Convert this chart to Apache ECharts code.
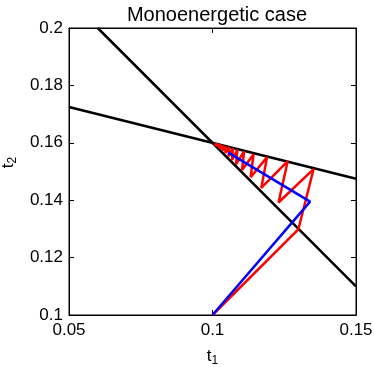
<!DOCTYPE html>
<html style="height: 100%">
<head>
  <meta charset="utf-8" />
  <title>Monoenergetic case</title>
  <script src="https://cdn.jsdelivr.net/npm/echarts@6/dist/echarts.min.js"></script>
</head>
<body style="height: 100%; margin: 0; overflow: hidden; background: #fff">
  <div id="container" style="width: 374px; height: 367px"></div>
  <script>
    // boundary lines (t1, t2)
    var steepLine = [[0.06, 0.2], [0.15, 0.11]];
    var shallowLine = [[0.05, 0.1725], [0.15, 0.1475]];
    // red zigzag iteration
    var redPath = [
      [0.1, 0.1], [0.1299, 0.1298], [0.1352, 0.1508], [0.1230, 0.1392],
      [0.1262, 0.1536], [0.1170, 0.1443], [0.1190, 0.1550], [0.1133, 0.1480],
      [0.1143, 0.1560], [0.1103, 0.1505], [0.1110, 0.1570], [0.1082, 0.1525],
      [0.1087, 0.1576], [0.1068, 0.1540], [0.1071, 0.1581], [0.1056, 0.1553],
      [0.1058, 0.1585], [0.1045, 0.1565], [0.1045, 0.1588], [0.1035, 0.1573],
      [0.1035, 0.1591], [0.1026, 0.1580], [0.1026, 0.1594], [0.1018, 0.1587],
      [0.1017, 0.1596], [0.1010, 0.1592], [0.1008, 0.1598]
    ];
    // blue path
    var bluePath = [[0.1, 0.1], [0.1340, 0.1395], [0.1055, 0.1566]];

    var font = "Liberation Sans, Arial, sans-serif";
    var dom = document.getElementById("container");
    var myChart = echarts.init(dom, null, { renderer: "canvas" });

    var tickLabel = { color: "#000", fontSize: 17, fontFamily: font };
    var nameRich = {
      t: { fontSize: 17, fontFamily: font, color: "#000" },
      s: { fontSize: 12, fontFamily: font, color: "#000", padding: [10, 0, 0, 0] }
    };
    var option = {
      animation: false,
      title: {
        text: "Monoenergetic case",
        left: 212, top: 0, textAlign: "center",
        textStyle: { color: "#000", fontSize: 20, fontWeight: "normal", fontFamily: font }
      },
      grid: {
        left: 69, right: 18, top: 28, bottom: 52,
        outerBoundsMode: "none", containLabel: false,
        show: true, borderColor: "#000", borderWidth: 1
      },
      xAxis: [{
        type: "value", min: 0.05, max: 0.15, interval: 0.05,
        name: "{t|t}{s|1}", nameLocation: "middle", nameGap: 30,
        nameTextStyle: { rich: nameRich },
        axisLine: { lineStyle: { color: "#000" } },
        axisTick: { inside: true, length: 5, lineStyle: { color: "#000" } },
        axisLabel: Object.assign({ margin: 7 }, tickLabel),
        splitLine: { show: false }
      }, {
        type: "value", min: 0.05, max: 0.15, interval: 0.05, position: "top",
        axisLine: { lineStyle: { color: "#000" } },
        axisTick: { inside: true, length: 5, lineStyle: { color: "#000" } },
        axisLabel: { show: false }, splitLine: { show: false }
      }],
      yAxis: [{
        type: "value", min: 0.1, max: 0.2, interval: 0.02,
        name: "{t|t}{s|2}", nameLocation: "middle", nameGap: 48, nameRotate: 90,
        nameTextStyle: { rich: nameRich, padding: [0, 0, 0, 18] },
        axisLine: { lineStyle: { color: "#000" } },
        axisTick: { inside: true, length: 5, lineStyle: { color: "#000" } },
        axisLabel: Object.assign({ margin: 6 }, tickLabel),
        splitLine: { show: false }
      }, {
        type: "value", min: 0.1, max: 0.2, interval: 0.02, position: "right",
        axisLine: { lineStyle: { color: "#000" } },
        axisTick: { inside: true, length: 5, lineStyle: { color: "#000" } },
        axisLabel: { show: false }, splitLine: { show: false }
      }],
      series: [
        { type: "line", data: steepLine, showSymbol: false, lineStyle: { color: "#000", width: 2.5 } },
        { type: "line", data: shallowLine, showSymbol: false, lineStyle: { color: "#000", width: 2.5 } },
        { type: "line", data: redPath, showSymbol: false, lineStyle: { color: "#ff0000", width: 2.5 } },
        { type: "line", data: bluePath, showSymbol: false, lineStyle: { color: "#0000ff", width: 2.5 } }
      ]
    };
    myChart.setOption(option);
  </script>
</body>
</html>
